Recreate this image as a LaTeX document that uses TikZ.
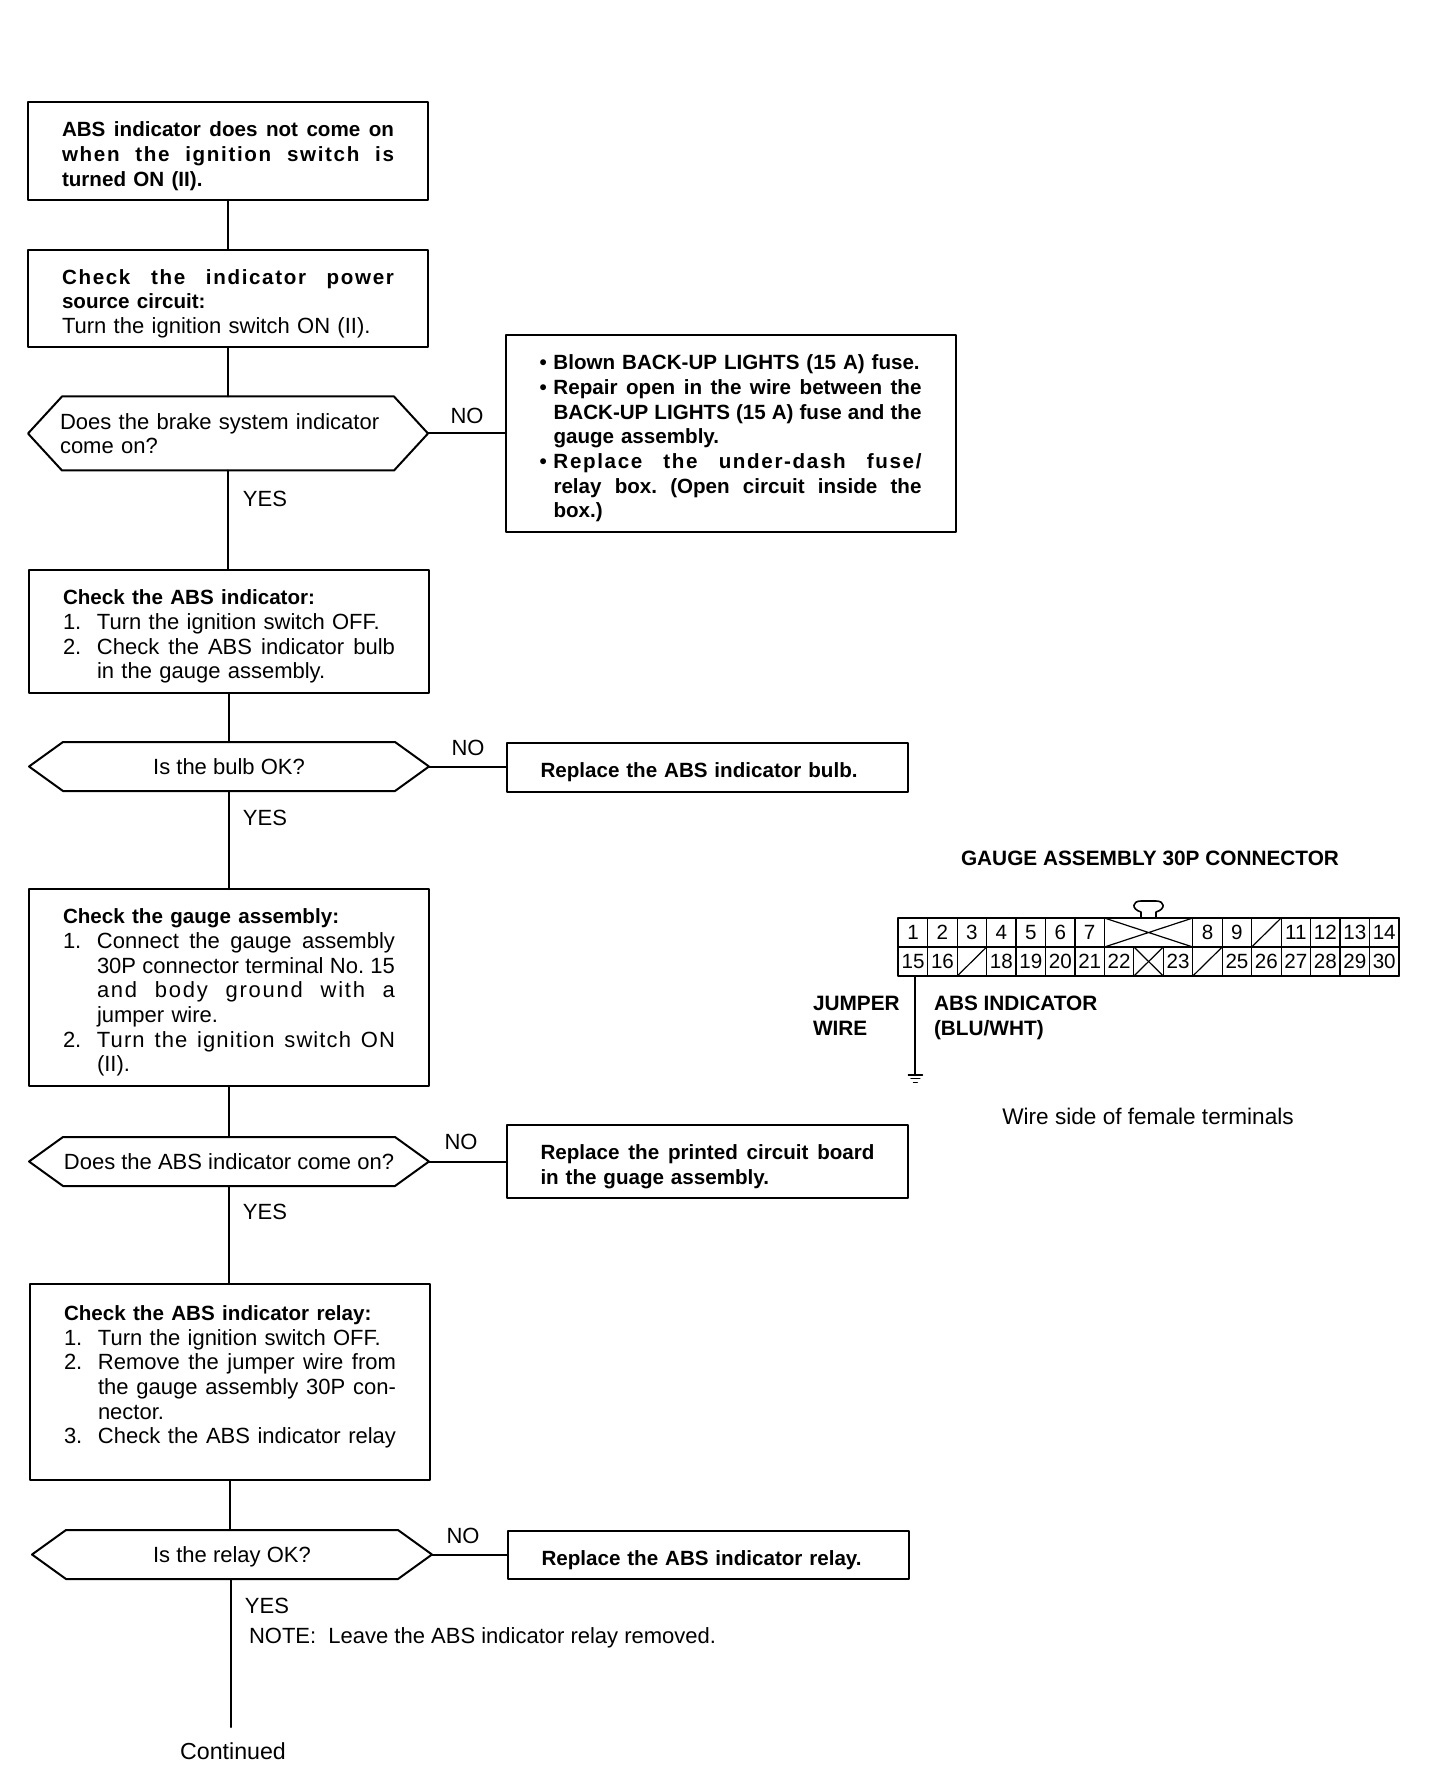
\documentclass[tikz,border=0pt]{standalone}
\usepackage{fontspec}
\setmainfont{Liberation Sans}
\begin{document}
\begin{tikzpicture}[x=0.5pt, y=-0.5pt, line cap=round, line join=round,
	font=\fontsize{11}{12.35}\selectfont,
	boxed/.style={draw=black, line width=1pt, inner xsep=17pt, inner ysep=0pt, outer sep=0pt, minimum width=200pt, text width=166pt, align=left, execute at begin node={\rule{0pt}{12.5pt}}},
	fixbox/.style={draw=black, line width=1pt, inner xsep=16.75pt, inner ysep=0pt, outer sep=0pt, minimum width=200.5pt, text width=167pt, align=left, font=\fontsize{10.3}{12.35}\selectfont\bfseries, execute at begin node={\rule{0pt}{12.5pt}}},
	hexnode/.style={inner sep=0pt, outer sep=0pt, minimum width=200pt, minimum height=24.5pt, align=center},
	link/.style={line width=1pt},
	cell/.style={draw=black, line width=0.6pt, inner sep=0pt, outer sep=0pt, minimum width=14.725pt, minimum height=14.5pt, font=\fontsize{10.3}{10.3}\selectfont},
	lab/.style={inner sep=0pt, outer sep=0pt},
	boldlab/.style={inner sep=0pt, outer sep=0pt, align=left, font=\fontsize{10.4}{12.35}\selectfont\bfseries}]
	\def\just#1#2{\leavevmode\hbox to #1{\spaceskip=.3em plus 1fil minus .1em\xspaceskip=\spaceskip #2}}
	\def\nr#1{\makebox[17pt][l]{#1}}
	\def\bl#1{\makebox[7pt][l]{#1}}
	\def\bd{\fontsize{10.3}{12.35}\selectfont\bfseries}
	\def\ls#1{\addfontfeature{LetterSpace=#1}}
	\useasboundingbox (0,0) rectangle (1440,1780);
	% left column
	\node[boxed, minimum height=49pt] (box1) at (228,151) {\bd\just{166pt}{ABS indicator does not come on}\\ \just{166pt}{\ls{8}when the ignition switch is}\\ turned ON (II).};
	\node[boxed, minimum height=48.5pt] (box2) at (228,298.5) {{\bd\just{166pt}{\ls{8}Check the indicator power}}\\ {\bd source circuit:}\\ Turn the ignition switch ON (II).};
	\node[hexnode, minimum height=37pt, text width=168pt, align=left] (dec1) at (228,433.5) {Does the brake system indicator\\ come on?};
	\node[boxed, minimum height=61.5pt] (box3) at (229,631.5) {{\bd Check the ABS indicator:}\\ \nr{1.}Turn the ignition switch OFF.\\ \nr{2.}\just{149pt}{Check the ABS indicator bulb}\\ \nr{}in the gauge assembly.};
	\node[hexnode] (dec2) at (229,766.5) {Is the bulb OK?};
	\node[boxed, minimum height=98.5pt] (box4) at (229,987.5) {{\bd Check the gauge assembly:}\\ \nr{1.}\just{149pt}{Connect the gauge assembly}\\ \nr{}\just{149pt}{30P connector terminal No. 15}\\ \nr{}\just{149pt}{\ls{8}and body ground with a}\\ \nr{}jumper wire.\\ \nr{2.}\just{149pt}{\ls{5}Turn the ignition switch ON}\\ \nr{}(II).};
	\node[hexnode] (dec3) at (229,1161.5) {Does the ABS indicator come on?};
	\node[boxed, minimum height=98pt, execute at begin node={}] (box5) at (230,1382) {{\bd Check the ABS indicator relay:}\\ \nr{1.}Turn the ignition switch OFF.\\ \nr{2.}\just{149pt}{Remove the jumper wire from}\\ \nr{}\just{149pt}{the gauge assembly 30P con-}\\ \nr{}nector.\\ \nr{3.}\just{149pt}{Check the ABS indicator relay}\\ ~};
	\node[hexnode, text depth=0pt] (dec4) at (232,1554.5) {Is the relay OK?};
	% hexagons
	\foreach \d in {dec1,dec2,dec3,dec4} {
		\draw[link] (\d.west) -- ([xshift=17pt]\d.north west) -- ([xshift=-17pt]\d.north east) -- (\d.east) -- ([xshift=-17pt]\d.south east) -- ([xshift=17pt]\d.south west) -- cycle;
	}
	% right column
	\node[fixbox, minimum width=225pt, text width=191.5pt, minimum height=98.5pt] (fix1) at (731,433.5) {\bl{•}Blown BACK-UP LIGHTS (15 A) fuse.\\ \bl{•}\just{184pt}{Repair open in the wire between the}\\ \bl{}\just{184pt}{BACK-UP LIGHTS (15 A) fuse and the}\\ \bl{}gauge assembly.\\ \bl{•}\just{184pt}{\ls{8}Replace the under-dash fuse/}\\ \bl{}\just{184pt}{relay box. (Open circuit inside the}\\ \bl{}box.)};
	\node[fixbox, minimum height=24.5pt] (fix2) at (707.5,767.5) {Replace the ABS indicator bulb.};
	\node[fixbox, minimum height=36.5pt] (fix3) at (707.5,1161.5) {\just{167pt}{Replace the printed circuit board}\\ in the guage assembly.};
	\node[fixbox, minimum height=24pt] (fix4) at (708.5,1555) {Replace the ABS indicator relay.};
	% connectors
	\coordinate (tail) at (230.5,1727);
	\draw[link] (box1) -- (box2);
	\draw[link] (box2) -- (dec1);
	\draw[link] (dec1.south) -- (dec1.south |- box3.north);
	\draw[link] (box3) -- (dec2);
	\draw[link] (dec2) -- (box4);
	\draw[link] (box4) -- (dec3);
	\draw[link] (dec3.south) -- (dec3.south |- box5.north);
	\draw[link] (box5.south) -- (box5.south |- dec4.north);
	\draw[link] (dec4.south -| tail) -- (tail);
	\draw[link] (dec1.east) -- (dec1.east -| fix1.west);
	\draw[link] (dec2.east) -- (dec2.east -| fix2.west);
	\draw[link] (dec3.east) -- (dec3.east -| fix3.west);
	\draw[link] (dec4.east) -- (dec4.east -| fix4.west);
	% labels
	\node[lab] (no1) at (467,416) {NO};
	\node[lab] (yes1) at (265,499) {YES};
	\node[lab] (no2) at (468,748) {NO};
	\node[lab] (yes2) at (265,818) {YES};
	\node[lab] (no3) at (461,1142) {NO};
	\node[lab] (yes3) at (265,1212) {YES};
	\node[lab] (no4) at (463,1536) {NO};
	\node[lab] (yes4) at (267,1606) {YES};
	\node[lab, anchor=west] (note) at (249,1638) {NOTE:\ \ Leave the ABS indicator relay removed.};
	\node[lab, font=\fontsize{11.6}{12.35}\selectfont] (cont) at (233,1751) {Continued};
	% connector face
	\node[boldlab] (conntitle) at (1150,858) {GAUGE ASSEMBLY 30P CONNECTOR};
	\foreach \k/\n in {0/1,1/2,2/3,3/4,4/5,5/6,6/7,10/8,11/9,12/,13/11,14/12,15/13,16/14} {
		\node[cell] (a\k) at ({913+29.45*\k},932.5) {\n};
	}
	\foreach \k/\n in {0/15,1/16,2/,3/18,4/19,5/20,6/21,7/22,8/,9/23,10/,11/25,12/26,13/27,14/28,15/29,16/30} {
		\node[cell] (b\k) at ({913+29.45*\k},961.5) {\n};
	}
	\draw[line width=0.6pt] (a6.north east) -- (a10.south west) (a6.south east) -- (a10.north west);
	\draw[line width=0.6pt] (a6.north east) -- (a10.north west) (a6.south east) -- (a10.south west);
	\draw[line width=0.6pt] (b8.north west) -- (b8.south east) (b8.south west) -- (b8.north east);
	\foreach \s in {a12,b2,b10} {
		\draw[line width=0.6pt] (\s.south west) -- (\s.north east);
	}
	\draw[line width=1pt] (a0.north west) rectangle (b16.south east);
	\draw[line width=0.8pt] (1141,918) -- (1141,912) .. controls (1131,909) and (1132,901) .. (1141,901) -- (1156,901) .. controls (1165,901) and (1166,909) .. (1156,912) -- (1156,918);
	% jumper wire
	\coordinate (wiretop) at ([xshift=1.2pt]b0.south);
	\coordinate (gnd) at (wiretop |- 0,1075);
	\draw[line width=1pt] (wiretop) -- (gnd);
	\draw[line width=0.8pt] ([xshift=-3.5pt]gnd) -- ([xshift=3.5pt]gnd);
	\draw[line width=0.7pt] ([xshift=-2.2pt,yshift=-1.8pt]gnd) -- ([xshift=2.2pt,yshift=-1.8pt]gnd);
	\draw[line width=0.6pt] ([xshift=-1pt,yshift=-3.6pt]gnd) -- ([xshift=1pt,yshift=-3.6pt]gnd);
	\node[boldlab, anchor=north west] (jumper) at (813,996) {JUMPER\\ WIRE};
	\node[boldlab, anchor=north west] (absind) at (934,996) {ABS INDICATOR\\ (BLU/WHT)};
	\node[lab, font=\fontsize{11.3}{12.35}\selectfont] (wireside) at (1148,1116) {Wire side of female terminals};
\end{tikzpicture}
\end{document}
